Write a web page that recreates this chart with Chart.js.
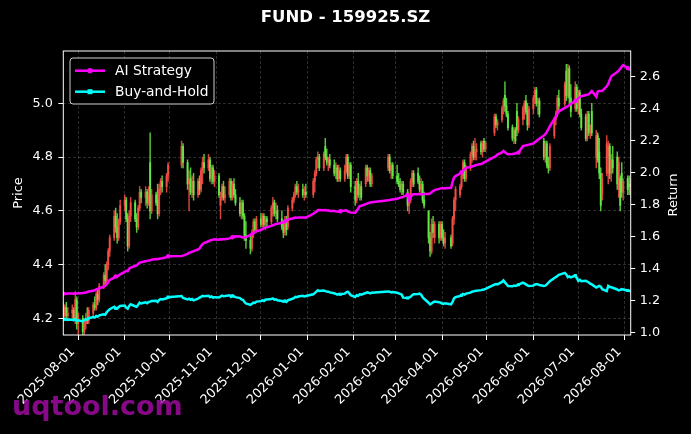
<!DOCTYPE html>
<html><head><meta charset="utf-8">
<script src="https://cdn.jsdelivr.net/npm/chart.js@4.4.1/dist/chart.umd.min.js"></script>
<style>html,body{margin:0;padding:0;background:#000;overflow:hidden}canvas{display:block}</style>
</head><body>
<canvas id="c" width="691" height="434"></canvas>
<script>
// ---------- categories ----------
const firstDay = '2025-07-22';
const lastDay = '2026-08-05';
const marketHolidays = ['2025-10-01','2025-10-02','2025-10-03','2025-10-06','2025-10-07','2025-10-08',
  '2026-01-01','2026-01-02','2026-02-16','2026-02-17','2026-02-18','2026-02-19','2026-02-20','2026-02-23',
  '2026-04-06','2026-05-01','2026-05-04','2026-05-05','2026-06-19'];
const tickLabels = ['2025-08-01','2025-09-01','2025-10-01','2025-11-01','2025-12-01','2026-01-01','2026-02-01',
  '2026-03-01','2026-04-01','2026-05-01','2026-06-01','2026-07-01','2026-08-01'];
const priceTicks = [4.2, 4.4, 4.6, 4.8, 5.0];
const returnTicks = [1.0, 1.2, 1.4, 1.6, 1.8, 2.0, 2.2, 2.4, 2.6];

// ---------- series (one row per trading week) ----------
const openPrice = [
4.24,4.21,4.24,4.21,
4.22,4.23,4.20,4.27,4.18,
4.20,4.15,4.18,4.20,4.19,
4.22,4.25,4.24,4.29,4.27,
4.32,4.36,4.34,4.40,4.45,
4.50,4.58,4.54,4.50,4.56,
4.62,4.64,4.57,4.47,4.58,
4.63,4.57,4.54,4.61,4.67,
4.65,4.67,4.63,4.78,4.60,
4.66,4.64,4.59,4.68,4.71,
4.69,4.73,
4.77,4.84,
4.78,4.70,4.72,4.67,4.71,
4.66,4.71,4.68,4.75,4.78,
4.76,4.79,4.72,4.76,4.71,
4.73,4.62,4.65,4.69,4.65,
4.66,4.71,4.65,4.70,4.66,
4.63,4.59,4.63,4.58,4.51,
4.49,4.46,4.52,4.56,4.53,
4.57,4.55,4.58,4.55,4.57,
4.56,4.61,4.63,4.59,4.60,
4.57,4.54,4.52,4.56,4.54,
4.61,4.64,4.66,4.69,4.67,
4.68,4.66,4.67,
4.66,4.71,4.74,4.79,4.80,
4.76,4.84,4.80,4.78,4.79,
4.77,4.74,4.76,4.72,4.75,
4.72,4.75,4.80,4.73,4.77,
4.69,4.64,4.71,4.66,4.69,
4.70,4.76,4.73,4.75,4.70,
4.76,4.80,4.75,4.77,
4.73,4.71,4.70,4.68,4.70,
4.67,4.62,4.64,4.71,4.74,
4.74,4.71,4.68,4.70,4.64,
4.60,4.50,4.45,4.55,4.50,
4.55,4.50,4.55,4.50,4.48,
4.50,4.48,4.57,4.64,
4.66,4.69,4.73,4.78,4.72,
4.76,4.81,4.84,4.80,4.82,
4.85,4.82,4.86,4.83,
4.89,4.95,4.92,
4.94,4.98,5.03,4.99,4.96,
4.91,4.87,4.90,4.97,4.90,
4.94,4.98,5.01,4.97,4.92,
4.98,5.02,5.05,5.00,5.01,
4.86,4.80,4.85,4.77,4.76,
4.88,4.94,4.96,5.02,
5.00,5.12,5.03,5.13,5.02,
4.98,5.06,4.99,5.04,4.96,
4.95,4.87,4.96,4.89,4.97,
4.80,4.88,4.82,4.74,4.66,
4.74,4.80,4.84,4.74,4.79,
4.80,4.68,4.72,4.74,4.67,
4.72,4.70,4.69];
const highPrice = [
4.26,4.25,4.26,4.24,
4.25,4.24,4.30,4.28,4.22,
4.21,4.19,4.22,4.24,4.24,
4.26,4.28,4.30,4.31,4.33,
4.37,4.40,4.41,4.46,4.51,
4.60,4.61,4.59,4.57,4.64,
4.66,4.65,4.59,4.60,4.65,
4.64,4.59,4.62,4.69,4.68,
4.69,4.68,4.69,4.89,4.68,
4.67,4.70,4.70,4.72,4.73,
4.74,4.78,
4.86,4.85,
4.79,4.75,4.76,4.73,4.74,
4.72,4.73,4.76,4.80,4.81,
4.81,4.80,4.77,4.77,4.75,
4.74,4.67,4.70,4.71,4.69,
4.72,4.72,4.71,4.72,4.68,
4.65,4.64,4.64,4.59,4.56,
4.51,4.53,4.57,4.57,4.58,
4.59,4.59,4.59,4.58,4.58,
4.62,4.65,4.64,4.63,4.62,
4.60,4.56,4.58,4.58,4.62,
4.65,4.67,4.70,4.71,4.70,
4.70,4.69,4.70,
4.72,4.75,4.80,4.82,4.81,
4.82,4.87,4.83,4.80,4.81,
4.79,4.78,4.77,4.77,4.76,
4.77,4.81,4.81,4.78,4.78,
4.71,4.72,4.74,4.70,4.71,
4.77,4.77,4.76,4.76,4.74,
4.81,4.81,4.78,4.78,
4.77,4.74,4.72,4.71,4.71,
4.68,4.64,4.72,4.75,4.75,
4.76,4.73,4.72,4.71,4.67,
4.60,4.52,4.57,4.58,4.56,
4.56,4.56,4.56,4.53,4.52,
4.51,4.58,4.65,4.69,
4.70,4.74,4.79,4.79,4.77,
4.82,4.85,4.86,4.87,4.85,
4.86,4.86,4.87,4.86,
4.96,4.96,4.94,
4.99,5.02,5.08,5.02,4.97,
4.92,4.91,4.91,5.00,4.95,
4.99,5.01,5.03,5.00,4.99,
5.03,5.06,5.06,5.02,5.02,
4.87,4.86,4.86,4.80,4.85,
4.95,4.97,5.03,5.05,
5.08,5.145,5.145,5.14,5.07,
5.08,5.07,5.05,5.05,4.98,
4.96,4.97,4.97,4.92,5.00,
4.90,4.89,4.87,4.76,4.74,
4.88,4.86,4.85,4.81,4.84,
4.82,4.80,4.73,4.78,4.72,
4.73,4.73,4.72];
const lowPrice = [
4.20,4.19,4.20,4.19,
4.20,4.19,4.18,4.16,4.14,
4.14,4.14,4.16,4.18,4.18,
4.21,4.23,4.23,4.25,4.26,
4.31,4.32,4.33,4.38,4.43,
4.49,4.52,4.48,4.49,4.55,
4.60,4.56,4.45,4.46,4.56,
4.56,4.52,4.53,4.60,4.63,
4.62,4.61,4.62,4.57,4.59,
4.62,4.57,4.58,4.66,4.67,
4.67,4.71,
4.76,4.76,
4.68,4.60,4.66,4.65,4.64,
4.65,4.66,4.67,4.70,4.74,
4.75,4.71,4.70,4.70,4.69,
4.65,4.57,4.64,4.64,4.63,
4.65,4.64,4.64,4.65,4.62,
4.58,4.57,4.57,4.49,4.46,
4.44,4.45,4.50,4.52,4.52,
4.54,4.54,4.54,4.53,4.54,
4.55,4.58,4.58,4.57,4.56,
4.53,4.50,4.51,4.51,4.53,
4.60,4.63,4.65,4.66,4.65,
4.65,4.64,4.65,
4.65,4.67,4.73,4.76,4.75,
4.75,4.79,4.77,4.75,4.76,
4.73,4.72,4.71,4.71,4.71,
4.71,4.74,4.72,4.72,4.67,
4.62,4.63,4.65,4.64,4.64,
4.69,4.71,4.71,4.69,4.69,
4.75,4.74,4.72,4.72,
4.70,4.69,4.67,4.66,4.66,
4.60,4.59,4.63,4.69,4.69,
4.70,4.67,4.66,4.63,4.61,
4.48,4.43,4.44,4.50,4.48,
4.48,4.49,4.49,4.47,4.46,
4.46,4.47,4.55,4.60,
4.65,4.68,4.72,4.71,4.71,
4.75,4.78,4.79,4.79,4.79,
4.81,4.80,4.82,4.82,
4.88,4.91,4.90,
4.93,4.96,4.97,4.95,4.90,
4.86,4.85,4.85,4.88,4.89,
4.92,4.94,4.96,4.90,4.91,
4.96,5.00,4.99,4.96,4.95,
4.79,4.78,4.76,4.74,4.75,
4.87,4.92,4.95,4.97,
4.99,5.01,5.02,5.00,4.95,
4.97,4.97,4.96,4.95,4.90,
4.86,4.86,4.88,4.87,4.88,
4.76,4.78,4.72,4.60,4.64,
4.73,4.70,4.72,4.71,4.74,
4.68,4.65,4.60,4.65,4.64,
4.66,4.66,4.66];
const closePrice = [
4.21,4.24,4.21,4.22,
4.23,4.20,4.27,4.18,4.20,
4.15,4.18,4.20,4.19,4.23,
4.25,4.24,4.29,4.27,4.32,
4.36,4.34,4.40,4.45,4.50,
4.58,4.54,4.50,4.56,4.62,
4.64,4.57,4.47,4.58,4.63,
4.57,4.54,4.61,4.67,4.65,
4.67,4.63,4.66,4.60,4.66,
4.63,4.59,4.68,4.71,4.69,
4.73,4.77,
4.84,4.78,
4.70,4.72,4.67,4.71,4.66,
4.71,4.68,4.75,4.78,4.76,
4.79,4.72,4.76,4.71,4.73,
4.66,4.65,4.69,4.65,4.66,
4.71,4.65,4.70,4.66,4.63,
4.59,4.63,4.58,4.51,4.49,
4.46,4.52,4.56,4.53,4.57,
4.55,4.58,4.55,4.57,4.56,
4.61,4.63,4.59,4.60,4.57,
4.54,4.52,4.56,4.53,4.61,
4.64,4.66,4.69,4.67,4.68,
4.66,4.67,4.66,
4.71,4.74,4.79,4.80,4.76,
4.81,4.80,4.78,4.79,4.77,
4.74,4.76,4.72,4.75,4.72,
4.75,4.80,4.73,4.77,4.69,
4.64,4.71,4.66,4.69,4.65,
4.76,4.73,4.75,4.70,4.73,
4.80,4.75,4.77,4.73,
4.71,4.70,4.68,4.70,4.67,
4.62,4.63,4.71,4.74,4.70,
4.71,4.68,4.70,4.64,4.62,
4.50,4.45,4.55,4.52,4.55,
4.50,4.55,4.50,4.48,4.50,
4.47,4.57,4.64,4.68,
4.69,4.73,4.78,4.72,4.76,
4.81,4.84,4.80,4.82,4.83,
4.82,4.85,4.83,4.85,
4.95,4.92,4.93,
4.98,5.01,4.99,4.96,4.91,
4.87,4.90,4.86,4.90,4.94,
4.98,5.00,4.97,4.92,4.98,
5.02,5.05,5.00,5.01,4.96,
4.80,4.85,4.77,4.76,4.84,
4.94,4.96,5.02,4.99,
5.07,5.03,5.13,5.02,4.97,
5.06,4.98,5.04,4.96,4.91,
4.87,4.96,4.89,4.90,4.89,
4.88,4.79,4.74,4.62,4.72,
4.85,4.84,4.74,4.79,4.76,
4.70,4.78,4.62,4.67,4.71,
4.68,4.69,4.70];
const aiReturn = [
1.242,1.243,1.242,1.243,
1.243,1.242,1.244,1.243,1.245,
1.246,1.248,1.249,1.252,1.255,
1.260,1.264,1.268,1.272,1.276,
1.285,1.292,1.300,1.315,1.328,
1.342,1.350,1.347,1.356,1.363,
1.378,1.385,1.382,1.398,1.405,
1.415,1.418,1.428,1.436,1.438,
1.445,1.447,1.450,1.451,1.455,
1.458,1.457,1.460,1.462,1.463,
1.470,1.476,
1.478,1.480,
1.490,1.499,1.500,1.505,1.508,
1.518,1.525,1.540,1.552,1.559,
1.570,1.575,1.578,1.580,1.582,
1.580,1.583,1.581,1.584,1.582,
1.588,1.593,1.595,1.598,1.601,
1.600,1.596,1.594,1.593,1.596,
1.610,1.617,1.620,1.626,1.632,
1.640,1.646,1.652,1.655,1.658,
1.666,1.670,1.674,1.678,1.680,
1.686,1.690,1.695,1.700,1.706,
1.712,1.716,1.718,1.717,1.718,
1.718,1.719,1.718,
1.742,1.748,1.755,1.764,1.765,
1.764,1.765,1.763,1.764,1.760,
1.759,1.757,1.756,1.755,1.758,
1.762,1.764,1.757,1.752,1.750,
1.748,1.760,1.775,1.790,1.792,
1.802,1.806,1.810,1.812,1.814,
1.826,1.828,1.830,1.832,
1.836,1.840,1.843,1.845,1.848,
1.860,1.828,1.845,1.862,1.864,
1.864,1.865,1.863,1.864,1.865,
1.866,1.870,1.876,1.884,1.890,
1.898,1.901,1.902,1.900,1.901,
1.905,1.940,1.970,1.978,
1.994,2.002,2.012,2.022,2.030,
2.035,2.038,2.041,2.044,2.048,
2.054,2.058,2.064,2.068,
2.098,2.104,2.112,
2.126,2.135,2.128,2.120,2.114,
2.116,2.118,2.120,2.122,2.125,
2.166,2.168,2.170,2.172,2.175,
2.182,2.190,2.198,2.205,2.212,
2.232,2.240,2.255,2.272,2.290,
2.336,2.350,2.368,2.382,
2.405,2.410,2.415,2.422,2.430,
2.448,2.455,2.465,2.472,2.478,
2.485,2.488,2.490,2.500,2.511,
2.474,2.508,2.511,2.510,2.512,
2.540,2.555,2.580,2.602,2.610,
2.630,2.638,2.650,2.662,2.673,
2.655,2.646,2.644];
const bhReturn = [
1.081,1.083,1.079,1.080,
1.078,1.076,1.082,1.072,1.075,
1.068,1.076,1.081,1.079,1.088,
1.095,1.093,1.102,1.098,1.106,
1.113,1.110,1.125,1.136,1.144,
1.160,1.150,1.148,1.158,1.165,
1.168,1.154,1.148,1.165,1.175,
1.163,1.160,1.172,1.185,1.180,
1.188,1.182,1.190,1.192,1.196,
1.197,1.190,1.202,1.208,1.206,
1.213,1.220,
1.227,1.215,
1.206,1.210,1.203,1.208,1.200,
1.210,1.217,1.222,1.228,1.226,
1.228,1.220,1.224,1.217,1.220,
1.218,1.224,1.230,1.226,1.227,
1.232,1.222,1.228,1.225,1.220,
1.214,1.206,1.203,1.190,1.180,
1.171,1.178,1.186,1.184,1.192,
1.195,1.200,1.196,1.204,1.206,
1.208,1.212,1.204,1.206,1.200,
1.196,1.192,1.196,1.190,1.200,
1.210,1.214,1.222,1.220,1.224,
1.228,1.224,1.227,
1.238,1.245,1.254,1.263,1.258,
1.262,1.258,1.255,1.254,1.250,
1.244,1.240,1.236,1.240,1.238,
1.242,1.250,1.254,1.245,1.232,
1.221,1.232,1.228,1.238,1.236,
1.246,1.250,1.248,1.244,1.248,
1.256,1.254,1.250,1.252,
1.248,1.244,1.240,1.236,1.217,
1.215,1.217,1.222,1.232,1.238,
1.240,1.242,1.236,1.220,1.210,
1.185,1.175,1.180,1.188,1.192,
1.188,1.186,1.180,1.178,1.182,
1.175,1.190,1.213,1.220,
1.227,1.232,1.240,1.236,1.242,
1.248,1.254,1.256,1.258,1.260,
1.264,1.266,1.268,1.272,
1.298,1.302,1.300,
1.315,1.325,1.312,1.302,1.290,
1.288,1.292,1.290,1.294,1.298,
1.311,1.306,1.300,1.294,1.290,
1.292,1.298,1.302,1.300,1.296,
1.290,1.292,1.300,1.310,1.320,
1.340,1.345,1.352,1.360,
1.372,1.362,1.345,1.350,1.344,
1.355,1.340,1.322,1.328,1.320,
1.322,1.318,1.312,1.305,1.300,
1.280,1.286,1.290,1.285,1.270,
1.258,1.290,1.284,1.282,1.279,
1.268,1.262,1.266,1.270,1.268,
1.262,1.259,1.259];

// ---------- build ----------
const FONT = "'DejaVu Sans'";
function dayNum(s){ const p = s.split('-').map(Number); return Date.UTC(p[0], p[1]-1, p[2]) / 86400000; }
function dayStr(n){ return new Date(n * 86400000).toISOString().slice(0, 10); }
const tradingDays = [];
for (let n = dayNum(firstDay); n <= dayNum(lastDay); n++) {
  const dow = new Date(n * 86400000).getUTCDay();
  if (dow === 0 || dow === 6) continue;
  if (marketHolidays.includes(dayStr(n))) continue;
  tradingDays.push(n);
}
const N = Math.min(tradingDays.length, openPrice.length, highPrice.length, lowPrice.length,
  closePrice.length, aiReturn.length, bhReturn.length);
const UP = 'rgba(250,80,70,0.85)', DOWN = 'rgba(100,238,70,0.85)';
const wickData = [], bodyData = [], candleColors = [], aiData = [], bhData = [];
for (let i = 0; i < N; i++) {
  const x = tradingDays[i];
  wickData.push({x: x, y: [lowPrice[i], highPrice[i]]});
  bodyData.push({x: x, y: [openPrice[i], closePrice[i]]});
  candleColors.push(closePrice[i] >= openPrice[i] ? UP : DOWN);
  aiData.push({x: x, y: aiReturn[i]});
  bhData.push({x: x, y: bhReturn[i]});
}
const tickValues = tickLabels.map(dayNum);
const gridColor = 'rgba(150,150,150,0.42)';
const tickFont = {family: FONT, size: 12.8};

const overlay = {
  id: 'overlay',
  afterDraw(chart) {
    const ctx = chart.ctx, a = chart.chartArea;
    ctx.save();
    // frame
    ctx.strokeStyle = '#ffffff'; ctx.lineWidth = 1;
    ctx.strokeRect(a.left, a.top, a.right - a.left, a.bottom - a.top);
    // legend box
    const bx = a.left + 6.7, by = a.top + 7, bw = 144, bh = 46, r = 3;
    ctx.beginPath();
    ctx.moveTo(bx + r, by); ctx.lineTo(bx + bw - r, by); ctx.arcTo(bx + bw, by, bx + bw, by + r, r);
    ctx.lineTo(bx + bw, by + bh - r); ctx.arcTo(bx + bw, by + bh, bx + bw - r, by + bh, r);
    ctx.lineTo(bx + r, by + bh); ctx.arcTo(bx, by + bh, bx, by + bh - r, r);
    ctx.lineTo(bx, by + r); ctx.arcTo(bx, by, bx + r, by, r); ctx.closePath();
    ctx.fillStyle = 'rgba(0,0,0,0.85)'; ctx.fill();
    ctx.strokeStyle = '#cfcfcf'; ctx.lineWidth = 1; ctx.stroke();
    const items = [
      {label: chart.data.datasets[0].label, color: '#ff00ff', y: a.top + 19.7, shape: 'circle'},
      {label: chart.data.datasets[1].label, color: '#00ffff', y: a.top + 40.7, shape: 'square'}
    ];
    ctx.font = '13.8px ' + FONT; ctx.textBaseline = 'middle'; ctx.textAlign = 'left';
    items.forEach(it => {
      ctx.strokeStyle = it.color; ctx.lineWidth = 2.5;
      ctx.beginPath(); ctx.moveTo(a.left + 11.7, it.y); ctx.lineTo(a.left + 41.7, it.y); ctx.stroke();
      ctx.fillStyle = it.color;
      if (it.shape === 'circle') { ctx.beginPath(); ctx.arc(a.left + 26.7, it.y, 2.6, 0, Math.PI * 2); ctx.fill(); }
      else ctx.fillRect(a.left + 24.2, it.y - 2.5, 5, 5);
      ctx.fillStyle = '#ffffff';
      ctx.fillText(it.label, a.left + 51.7, it.y + 0.5);
    });
    // right axis title
    ctx.save();
    ctx.translate(673.5, (a.top + a.bottom) / 2 + 2);
    ctx.rotate(-Math.PI / 2);
    ctx.font = '13px ' + FONT; ctx.fillStyle = '#ffffff'; ctx.textAlign = 'center'; ctx.textBaseline = 'middle';
    ctx.fillText('Return', 0, 0);
    ctx.restore();
    // watermark
    ctx.font = 'bold 27px ' + FONT; ctx.fillStyle = 'rgba(150,10,150,0.9)';
    ctx.textAlign = 'left'; ctx.textBaseline = 'alphabetic';
    ctx.fillText('uqtool.com', 12, 415);
    ctx.restore();
  }
};

new Chart(document.getElementById('c'), {
  type: 'line',
  data: {
    datasets: [
      {type: 'line', label: 'AI Strategy', data: aiData, yAxisID: 'y1', borderColor: '#ff00ff', backgroundColor: '#ff00ff',
       borderWidth: 2.5, tension: 0, pointStyle: 'circle', pointBorderWidth: 0,
       pointRadius: c => (c.dataIndex % 25 === 0 ? 2.2 : 0), order: 0},
      {type: 'line', label: 'Buy-and-Hold', data: bhData, yAxisID: 'y1', borderColor: '#00ffff', backgroundColor: '#00ffff',
       borderWidth: 2.5, tension: 0, pointStyle: 'rect', pointBorderWidth: 0,
       pointRadius: c => (c.dataIndex % 25 === 0 ? 2.2 : 0), order: 1},
      {type: 'bar', label: 'body', data: bodyData, yAxisID: 'y', backgroundColor: candleColors,
       barThickness: 1.3, grouped: false, borderWidth: 0, order: 2},
      {type: 'bar', label: 'wick', data: wickData, yAxisID: 'y', backgroundColor: candleColors,
       barThickness: 0.8, grouped: false, borderWidth: 0, order: 3}
    ]
  },
  options: {
    responsive: false, animation: false, events: [],
    layout: {padding: 0},
    plugins: {
      legend: {display: false}, tooltip: {enabled: false},
      title: {display: true, text: 'FUND - 159925.SZ', color: '#ffffff',
              font: {family: FONT, size: 16.5, weight: 'bold'}, padding: {top: 7.5, bottom: 23.7}}
    },
    scales: {
      x: {type: 'linear', min: dayNum(firstDay), max: dayNum(lastDay), offset: false,
          afterBuildTicks: s => { s.ticks = tickValues.map(v => ({value: v})); },
          afterFit: s => { s.height = 99; },
          ticks: {color: '#ffffff', font: tickFont, autoSkip: false, minRotation: 45, maxRotation: 45,
                  padding: 4.5, labelOffset: -5.3, callback: (v, i) => tickLabels[i]},
          grid: {color: gridColor, lineWidth: 0.7, tickColor: '#ffffff', tickWidth: 1, tickLength: 5, offset: false},
          border: {display: false, dash: [3, 2]}},
      y: {type: 'linear', position: 'left', min: 4.138, max: 5.195, beginAtZero: false,
          afterBuildTicks: s => { s.ticks = priceTicks.map(v => ({value: v})); },
          afterFit: s => { s.width = 63.3; },
          ticks: {color: '#ffffff', font: tickFont, padding: 5.5, callback: v => Number(v).toFixed(1)},
          grid: {color: gridColor, lineWidth: 0.7, tickColor: '#ffffff', tickWidth: 1, tickLength: 5},
          border: {display: false, dash: [3, 2]},
          title: {display: true, text: 'Price', color: '#ffffff', font: {family: FONT, size: 13}, padding: {top: 10.6, bottom: 0}}},
      y1: {type: 'linear', position: 'right', min: 0.983, max: 2.761, beginAtZero: false,
          afterBuildTicks: s => { s.ticks = returnTicks.map(v => ({value: v})); },
          afterFit: s => { s.width = 60.3; },
          ticks: {color: '#ffffff', font: tickFont, padding: 4.5, callback: v => Number(v).toFixed(1)},
          grid: {drawOnChartArea: false, color: '#ffffff', tickColor: '#ffffff', tickWidth: 1, tickLength: 4.5},
          border: {display: false}}
    }
  },
  plugins: [overlay]
});
</script>
</body></html>
